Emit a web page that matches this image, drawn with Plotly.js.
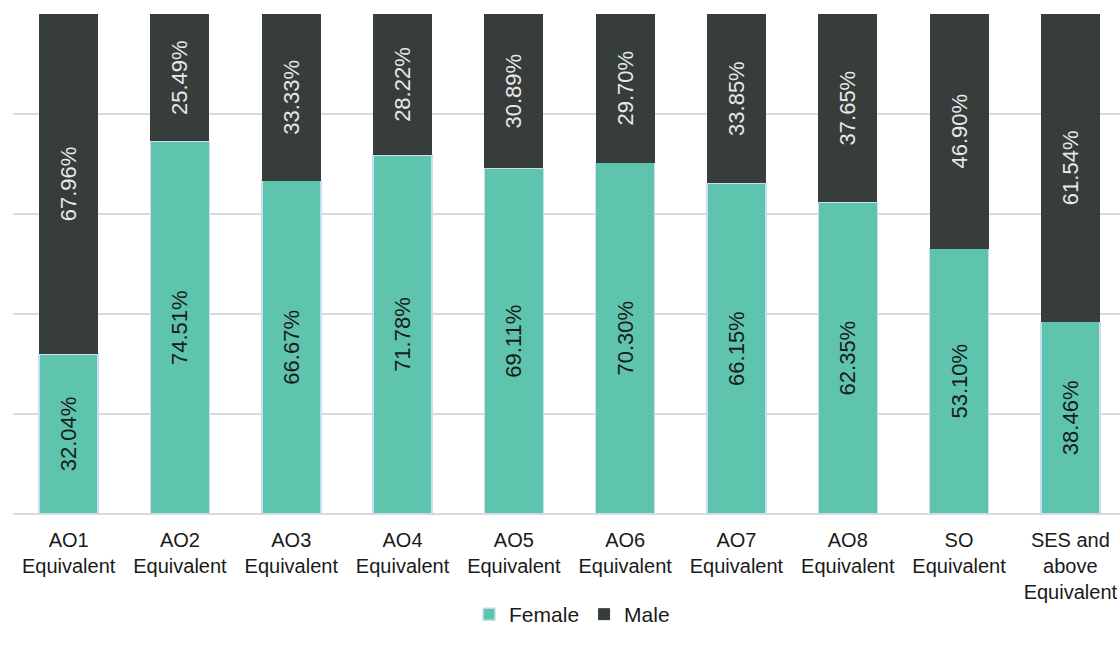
<!DOCTYPE html>
<html>
<head>
<meta charset="utf-8">
<script src="https://cdn.plot.ly/plotly-3.0.1.min.js"></script>
<style>html,body{margin:0;padding:0;background:#fff;}#chart{width:1120px;height:652px;}</style>
</head>
<body>
<div id="chart"></div>
<script>
var categories = ["AO1<br>Equivalent","AO2<br>Equivalent","AO3<br>Equivalent","AO4<br>Equivalent","AO5<br>Equivalent","AO6<br>Equivalent","AO7<br>Equivalent","AO8<br>Equivalent","SO<br>Equivalent","SES and<br>above<br>Equivalent"];
var female = [32.04, 74.51, 66.67, 71.78, 69.11, 70.30, 66.15, 62.35, 53.10, 38.46];
var male = [67.96, 25.49, 33.33, 28.22, 30.89, 29.70, 33.85, 37.65, 46.90, 61.54];

function labels(arr){ return arr.map(function(v){ return v.toFixed(2) + "%"; }); }

var traces = [
  {
    type: "bar", name: "Female", x: categories, y: female,
    text: labels(female), textposition: "inside", insidetextanchor: "middle",
    textangle: -90, constraintext: "none",
    textfont: {family: "Liberation Sans, Arial, sans-serif", size: 22, color: "#1a1a1a"},
    marker: {color: "#5EC4AE", line: {color: "#c9ddf2", width: 1.5}},
    hoverinfo: "none"
  },
  {
    type: "bar", name: "Male", x: categories, y: male,
    text: labels(male), textposition: "inside", insidetextanchor: "middle",
    textangle: -90, constraintext: "none",
    textfont: {family: "Liberation Sans, Arial, sans-serif", size: 22, color: "#e8e8e8"},
    marker: {color: "#363D3A", line: {width: 0}},
    hoverinfo: "none"
  }
];

var layout = {
  width: 1120, height: 652,
  barmode: "stack", bargap: 0.47,
  margin: {l: 13, r: 0, t: 14, b: 138},
  paper_bgcolor: "#ffffff", plot_bgcolor: "#ffffff",
  font: {family: "Liberation Sans, Arial, sans-serif", size: 20, color: "#1a1a1a"},
  xaxis: {
    type: "category", range: [-0.5, 9.446], showgrid: false, zeroline: false,
    showline: false, ticks: "", tickfont: {size: 20, color: "#1a1a1a"}, automargin: false,
    ticklabelstandoff: 12
  },
  yaxis: {
    range: [0, 100], dtick: 20, showticklabels: false, showgrid: true,
    gridcolor: "#d9d9d9", gridwidth: 1.3, zeroline: true, zerolinecolor: "#d9d9d9",
    zerolinewidth: 1.3, ticks: "", fixedrange: true
  },
  showlegend: true,
  legend: {
    orientation: "h", x: 0.505, xanchor: "center", y: -0.16, yanchor: "top",
    font: {size: 21, color: "#1a1a1a"}, traceorder: "normal", itemwidth: 30
  }
};

Plotly.newPlot("chart", traces, layout, {displayModeBar: false, staticPlot: true});
</script>
</body>
</html>
